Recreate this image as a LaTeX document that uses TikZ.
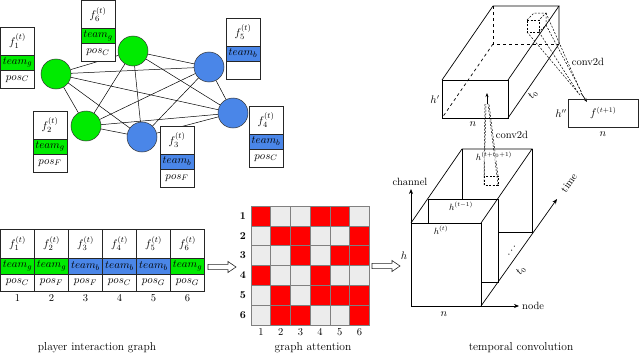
\documentclass[tikz,border=0pt]{standalone}
\usetikzlibrary{arrows.meta,calc}
\definecolor{tgreen}{RGB}{0,235,0}
\definecolor{tblue}{RGB}{74,134,232}
\definecolor{ared}{RGB}{255,0,0}
\definecolor{agray}{RGB}{236,236,236}
\newcommand{\pbox}[7]{%
  \node[fcell, anchor=north west] (#1f) at (#2,#3) {$f_{#4}^{(t)}$};
  \node[tcell, fill=#5, anchor=north] (#1t) at (#1f.south) {$team_{#6}$};
  \node[pcell, anchor=north] (#1p) at (#1t.south) {#7};}
\begin{document}
\begin{tikzpicture}[x=1pt,y=-1pt,
  cellbase/.style={draw=black!85, line width=0.7pt, minimum width=34pt, inner sep=0pt, outer sep=0pt, font=\fontsize{11}{12}\selectfont},
  fcell/.style={cellbase, fill=white, minimum height=28pt},
  tcell/.style={cellbase, minimum height=15pt},
  pcell/.style={cellbase, fill=white, minimum height=18pt},
  player/.style={circle, draw=black!80, line width=0.5pt, minimum size=30pt, inner sep=0pt},
  edge/.style={line width=0.5pt},
  blockarrow/.style={draw=black!85, line width=0.6pt, fill=white},
  edg/.style={line width=0.7pt},
  ax/.style={line width=0.7pt, -{Stealth[length=5pt,width=4pt]}},
  kern/.style={line width=0.5pt, dash pattern=on 2pt off 1.5pt},
  captxt/.style={font=\fontsize{11.5}{13}\selectfont},
  lbl/.style={inner sep=1pt, font=\fontsize{10.5}{12}\selectfont}]
\useasboundingbox (0,0) rectangle (640,356);

% ---------- player interaction graph ----------
\node[player, fill=tgreen] (n1) at (56,74) {};
\node[player, fill=tgreen] (n6) at (133,51) {};
\node[player, fill=tblue]  (n5) at (209,67) {};
\node[player, fill=tgreen] (n2) at (86,126) {};
\node[player, fill=tblue]  (n3) at (142,137) {};
\node[player, fill=tblue]  (n4) at (233,113) {};
\foreach \a/\b in {n1/n2,n1/n3,n1/n4,n1/n5,n1/n6,n2/n3,n2/n4,n2/n5,n2/n6,n3/n4,n3/n5,n3/n6,n4/n5,n4/n6,n5/n6}
  \draw[edge] (\a) -- (\b);

\pbox{g1}{0.5}{27}{1}{tgreen}{g}{$pos_C$}
\pbox{g6}{81}{0.5}{6}{tgreen}{g}{$pos_C$}
\pbox{g5}{226}{18}{5}{tblue}{b}{}
\pbox{g2}{33}{111}{2}{tgreen}{g}{$pos_F$}
\pbox{g3}{160}{126}{3}{tblue}{b}{$pos_F$}
\pbox{g4}{249}{106}{4}{tblue}{b}{$pos_C$}

% bottom row
\begin{scope}[fcell/.append style={minimum height=29pt},
              tcell/.append style={minimum height=16pt},
              pcell/.append style={minimum height=17pt}]
\pbox{r1}{0.5}{229}{1}{tgreen}{g}{$pos_C$}
\pbox{r2}{34.5}{229}{2}{tgreen}{g}{$pos_F$}
\pbox{r3}{68.5}{229}{3}{tblue}{b}{$pos_F$}
\pbox{r4}{102.5}{229}{4}{tblue}{b}{$pos_C$}
\pbox{r5}{136.5}{229}{5}{tblue}{b}{$pos_G$}
\pbox{r6}{170.5}{229}{6}{tgreen}{g}{$pos_G$}
\end{scope}
\foreach \i in {1,...,6}
  \node[lbl] (rn\i) at ({17.5+(\i-1)*34},298) {\i};
\node[captxt] (cap1) at (97,348) {player interaction graph};

% arrow 1 (hollow block arrow)
\coordinate (a1s) at (208,267);
\coordinate (a1e) at (236,267);
\draw[blockarrow] ($(a1s)+(0,-2.6)$) -- ($(a1e)+(-8,-2.6)$) -- ($(a1e)+(-8,-5.5)$) -- (a1e)
  -- ($(a1e)+(-8,5.5)$) -- ($(a1e)+(-8,2.6)$) -- ($(a1s)+(0,2.6)$) -- cycle;

% ---------- graph attention ----------
\foreach \row [count=\r] in {{1,0,0,1,1,0},{0,1,1,0,0,1},{0,0,1,0,1,1},{1,0,0,1,0,0},{0,1,0,1,1,1},{0,1,1,0,0,1}} {
  \foreach \v [count=\c] in \row {
    \ifnum\v=1 \def\cc{ared}\else\def\cc{agray}\fi
    \draw[fill=\cc, draw=black!50, line width=0.6pt] ({251+(\c-1)*19.7},{206+(\r-1)*19.8}) rectangle ++(19.7,19.8);
  }
}
\foreach \i in {1,...,6} {
  \node[lbl, font=\fontsize{10.5}{12}\selectfont\bfseries] (ar\i) at (243,{216+(\i-1)*19.8}) {\i};
  \node[lbl] (ac\i) at ({261+(\i-1)*19.7},332) {\i};
}
\node[captxt] (cap2) at (313,348) {graph attention};

% arrow 2
\coordinate (a2s) at (372,266);
\coordinate (a2e) at (400,266);
\draw[blockarrow] ($(a2s)+(0,-2.6)$) -- ($(a2e)+(-8,-2.6)$) -- ($(a2e)+(-8,-5.5)$) -- (a2e)
  -- ($(a2e)+(-8,5.5)$) -- ($(a2e)+(-8,2.6)$) -- ($(a2s)+(0,2.6)$) -- cycle;

% ---------- temporal convolution: lower box ----------
\coordinate (A) at (411,306);
\coordinate (B) at (481,306);
\coordinate (C) at (481,223);
\coordinate (D) at (411,223);
\coordinate (Dp) at (462,149);
\coordinate (Cp) at (532,149);
\coordinate (Bp) at (532,232);
\coordinate (Dm) at (428,199);
\coordinate (Cm) at (498,199);
\coordinate (Bm) at (498,282);
\coordinate (chtip) at (411,189);
\coordinate (nodetip) at (519,306);
\coordinate (timetip) at (557,199);
\draw[edg] (A) -- (B) -- (C) -- (D) -- cycle;
\draw[edg] (D) -- (Dp) -- (Cp) -- (C);
\draw[edg] (Dp) -- (Dp |- Dm);
\draw[edg] (Cp) -- (Bp) -- (Bm |- Bp);
\draw[edg] (Dm |- D) -- (Dm) -- (Cm) -- (Bm) -- (Bm -| B);
\draw[ax] (A) -- (chtip);
\draw[ax] (B) -- (nodetip);
\draw[ax] (B) -- (timetip);
\node[lbl] (lch) at (410,182) {channel};
\node[lbl, anchor=west] (lnode) at (521,306) {node};
\node[lbl, rotate=55] (ltime) at (569,183) {time};
\node[lbl] (lh) at (404,256) {$h$};
\node[lbl] (ln) at (444,314) {$n$};
\node[lbl, font=\small] (lht) at (441,230) {$h^{(t)}$};
\node[lbl, font=\small] (lht1) at (461,206) {$h^{(t-1)}$};
\node[lbl, rotate=55] (ldots) at (512,251) {$\cdots$};
\node[lbl, rotate=55] (lt0) at (521,271) {$t_0$};

% lower kernel
\coordinate (lk1) at (484,176);
\coordinate (lk2) at (498,176);
\coordinate (lk3) at (484,185);
\coordinate (lk4) at (498,185);
\coordinate (lkt1) at (485,104);
\coordinate (lkt2) at (489,104);
\coordinate (lkt3) at (486,104);
\coordinate (lkt4) at (488,104);
\coordinate (lktip) at (487,104);
\coordinate (lkend) at (487,93);
\draw[kern] (lk1) rectangle (lk4);
\draw[kern] (lk1) -- (lkt1);
\draw[kern] (lk2) -- (lkt2);
\draw[kern] (lk3) -- (lkt3);
\draw[kern] (lk4) -- (lkt4);
\draw[line width=0.7pt, -{Stealth[length=4pt,width=3pt]}] (lktip) -- (lkend);
\node[lbl, font=\small, fill=white, fill opacity=0.6, text opacity=1] (lhk) at (494,156) {$h^{(t+t_0+1)}$};
\node[lbl] (lconv1) at (512,135) {conv2d};

% ---------- upper box ----------
\coordinate (FA) at (442,118);
\coordinate (FB) at (508,118);
\coordinate (FC) at (508,80);
\coordinate (FD) at (442,80);
\coordinate (BA) at (493,44);
\coordinate (BB) at (559,44);
\coordinate (BC) at (559,6);
\coordinate (BD) at (493,6);
\draw[edg] (FA) -- (FB) -- (FC) -- (FD) -- cycle;
\draw[edg] (FD) -- (BD) -- (BC) -- (FC);
\draw[edg] (BC) -- (BB) -- (FB);
\draw[edg, dashed] (BD) -- (BA) -- (BB);
\draw[edg, dashed] (BA) -- (FA);
\node[lbl] (lhp) at (435,100) {$h'$};
\node[lbl] (lnp) at (473,124) {$n$};
\node[lbl, rotate=55] (lt0p) at (533,95) {$t_0$};

% upper kernel
\coordinate (uk1) at (527,20);
\coordinate (uk2) at (539,20);
\coordinate (uk3) at (539,32);
\coordinate (uk4) at (527,32);
\coordinate (uk5) at (534,13);
\coordinate (uk6) at (546,13);
\coordinate (uk7) at (546,25);
\draw[kern] (uk1) -- (uk2) -- (uk3) -- (uk4) -- cycle;
\draw[kern] (uk1) -- (uk5) -- (uk6) -- (uk2);
\draw[kern] (uk6) -- (uk7) -- (uk3);
\coordinate (ukt1) at (579,94);
\coordinate (ukt2) at (581,92);
\coordinate (ukt3) at (582,93);
\coordinate (ukt4) at (580,95);
\coordinate (uktip) at (581,93);
\coordinate (ukend) at (587,102);
\draw[kern] (uk3) -- (ukt1);
\draw[kern] (uk6) -- (ukt2);
\draw[kern] (uk7) -- (ukt3);
\draw[kern] (uk4) -- (ukt4);
\draw[line width=0.7pt, -{Stealth[length=4pt,width=3pt]}] (uktip) -- (ukend);
\node[lbl] (lconv2) at (588,62) {conv2d};

% output rectangle
\node[draw=black!85, line width=0.7pt, minimum width=70pt, minimum height=28pt, inner sep=0pt, anchor=north west, font=\fontsize{10.5}{12}\selectfont] (out) at (568,99) {$f^{(t+1)}$};
\node[lbl, anchor=east] (lhpp) at (out.west) {$h''$};
\node[lbl] (lnpp) at (603,134) {$n$};

\node[captxt] (cap3) at (521,348) {temporal convolution};
\end{tikzpicture}
\end{document}
